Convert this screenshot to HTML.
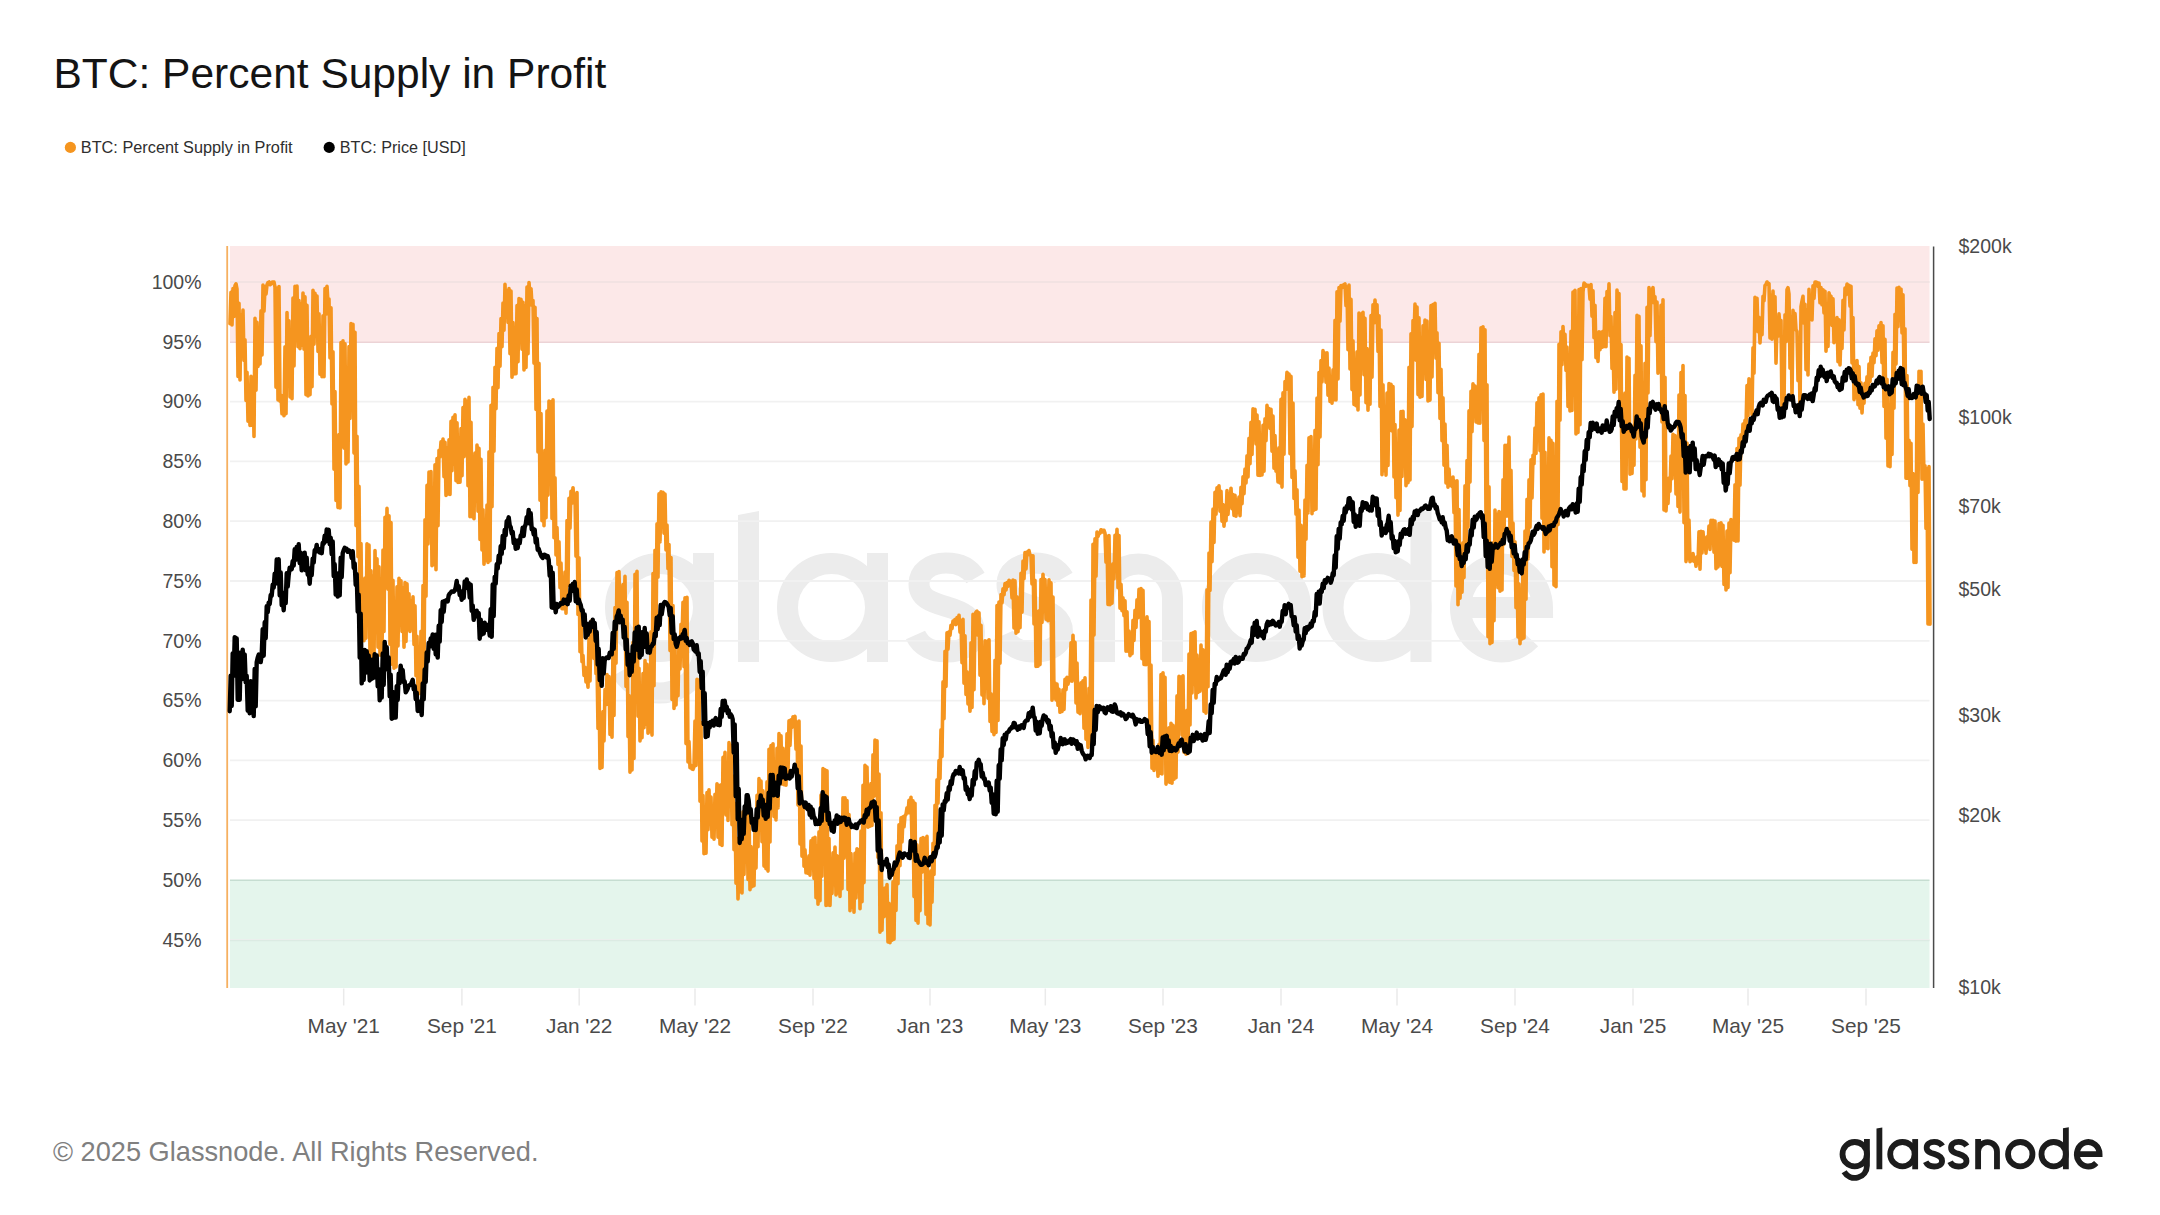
<!DOCTYPE html>
<html><head><meta charset="utf-8"><style>
html,body{margin:0;padding:0;background:#fff;}
body{width:2160px;height:1215px;overflow:hidden;position:relative;font-family:"Liberation Sans",sans-serif;}
svg{position:absolute;left:0;top:0;}
.wm circle,.wm path{fill:none;stroke:#ececec;stroke-width:21;}
.wm path.f{fill:#ececec;stroke:none;}
.lg circle,.lg path{fill:none;stroke:#1c1c1c;stroke-width:21;}
.lg path.f{fill:#1c1c1c;stroke:none;}
</style></head><body>
<svg width="2160" height="1215" viewBox="0 0 2160 1215">
<rect width="2160" height="1215" fill="#fff"/>
<text x="53.5" y="87.5" font-size="42.5" fill="#141414">BTC: Percent Supply in Profit</text>
<circle cx="70.4" cy="147.4" r="5.6" fill="#f5951f"/>
<text x="80.8" y="152.9" font-size="16.3" fill="#2e2e2e">BTC: Percent Supply in Profit</text>
<circle cx="329.2" cy="147.4" r="5.6" fill="#000"/>
<text x="339.8" y="152.9" font-size="16.2" fill="#2e2e2e">BTC: Price [USD]</text>
<g class="wm" transform="translate(605 662)"><circle cx="54.5" cy="-54.5" r="44"/><path d="M98.5 -109 V-13 A44 44 0 0 1 16.4 9"/><path d="M133 -147 L154 -151 L154 0 L133 0 Z" class="f"/><circle cx="226.5" cy="-54.5" r="44"/><path d="M272.5 -109 V0"/><path transform="translate(301 0)" d="M69.5 -84 C62 -97 50 -99 40 -99 C24 -99 13 -90 13 -78 C13 -64 25 -60 40 -55.5 C57 -50.5 68.5 -45 68.5 -30 C68.5 -17 56 -10 40 -10 C27 -10 15 -15 9.5 -27"/><path transform="translate(389 0)" d="M69.5 -84 C62 -97 50 -99 40 -99 C24 -99 13 -90 13 -78 C13 -64 25 -60 40 -55.5 C57 -50.5 68.5 -45 68.5 -30 C68.5 -17 56 -10 40 -10 C27 -10 15 -15 9.5 -27"/><path d="M499.5 -109 V0 M499.5 -64 A34 34 0 0 1 567.5 -64 V0"/><circle cx="651.5" cy="-54.5" r="44"/><circle cx="772" cy="-54.5" r="44"/><path d="M805.5 -148 L826.5 -152 L826.5 0 L805.5 0 Z" class="f"/><path d="M855.5 -54.5 H937.5 A41 44 0 1 0 925.5 -23"/></g>
<rect x="230.0" y="246.0" width="1699.5" height="96.19999999999999" fill="#fce8e8"/>
<rect x="230.0" y="880.3" width="1699.5" height="107.70000000000005" fill="#e4f5ec"/>
<g stroke="#f1f1f1" stroke-width="1.8"><line x1="230.0" x2="1929.5" y1="282" y2="282"/><line x1="230.0" x2="1929.5" y1="401.6" y2="401.6"/><line x1="230.0" x2="1929.5" y1="461.4" y2="461.4"/><line x1="230.0" x2="1929.5" y1="521.2" y2="521.2"/><line x1="230.0" x2="1929.5" y1="581" y2="581"/><line x1="230.0" x2="1929.5" y1="640.8" y2="640.8"/><line x1="230.0" x2="1929.5" y1="700.6" y2="700.6"/><line x1="230.0" x2="1929.5" y1="760.4" y2="760.4"/><line x1="230.0" x2="1929.5" y1="820.2" y2="820.2"/><line x1="230.0" x2="1929.5" y1="939.8" y2="939.8"/></g>
<line x1="230.0" x2="1929.5" y1="282" y2="282" stroke="#f2dcdc" stroke-width="1.6"/>
<line x1="230.0" x2="1929.5" y1="342.2" y2="342.2" stroke="#ecd3d6" stroke-width="1.6"/>
<line x1="230.0" x2="1929.5" y1="880.3" y2="880.3" stroke="#c6ddd1" stroke-width="1.6"/>
<line x1="230.0" x2="1929.5" y1="940.5" y2="940.5" stroke="#dcebe3" stroke-width="1.6"/>
<line x1="227.2" x2="227.2" y1="246" y2="988" stroke="#f6b060" stroke-width="1.8"/>
<line x1="1933.6" x2="1933.6" y1="246.5" y2="988" stroke="#4a4a4a" stroke-width="1.5"/>
<g stroke="#eaeaea" stroke-width="1.5"><line x1="343.7" x2="343.7" y1="988.5" y2="1005.5"/><line x1="461.9" x2="461.9" y1="988.5" y2="1005.5"/><line x1="579.2" x2="579.2" y1="988.5" y2="1005.5"/><line x1="695.0" x2="695.0" y1="988.5" y2="1005.5"/><line x1="813.0" x2="813.0" y1="988.5" y2="1005.5"/><line x1="930.0" x2="930.0" y1="988.5" y2="1005.5"/><line x1="1045.3" x2="1045.3" y1="988.5" y2="1005.5"/><line x1="1163.0" x2="1163.0" y1="988.5" y2="1005.5"/><line x1="1281.0" x2="1281.0" y1="988.5" y2="1005.5"/><line x1="1397.0" x2="1397.0" y1="988.5" y2="1005.5"/><line x1="1515.0" x2="1515.0" y1="988.5" y2="1005.5"/><line x1="1633.0" x2="1633.0" y1="988.5" y2="1005.5"/><line x1="1748.0" x2="1748.0" y1="988.5" y2="1005.5"/><line x1="1866.0" x2="1866.0" y1="988.5" y2="1005.5"/></g>
<g font-size="19.5" fill="#4a4a4a"><text x="201.5" y="288.8" text-anchor="end">100%</text><text x="201.5" y="348.6" text-anchor="end">95%</text><text x="201.5" y="408.4" text-anchor="end">90%</text><text x="201.5" y="468.2" text-anchor="end">85%</text><text x="201.5" y="528" text-anchor="end">80%</text><text x="201.5" y="587.8" text-anchor="end">75%</text><text x="201.5" y="647.6" text-anchor="end">70%</text><text x="201.5" y="707.4" text-anchor="end">65%</text><text x="201.5" y="767.2" text-anchor="end">60%</text><text x="201.5" y="827" text-anchor="end">55%</text><text x="201.5" y="886.8" text-anchor="end">50%</text><text x="201.5" y="946.6" text-anchor="end">45%</text><text x="1958.5" y="252.8">$200k</text><text x="1958.5" y="424.3">$100k</text><text x="1958.5" y="512.5">$70k</text><text x="1958.5" y="595.7">$50k</text><text x="1958.5" y="722.1">$30k</text><text x="1958.5" y="822.4">$20k</text><text x="1958.5" y="993.9">$10k</text></g>
<g font-size="20.8" fill="#4a4a4a"><text x="343.7" y="1032.8" text-anchor="middle">May '21</text><text x="461.9" y="1032.8" text-anchor="middle">Sep '21</text><text x="579.2" y="1032.8" text-anchor="middle">Jan '22</text><text x="695.0" y="1032.8" text-anchor="middle">May '22</text><text x="813.0" y="1032.8" text-anchor="middle">Sep '22</text><text x="930.0" y="1032.8" text-anchor="middle">Jan '23</text><text x="1045.3" y="1032.8" text-anchor="middle">May '23</text><text x="1163.0" y="1032.8" text-anchor="middle">Sep '23</text><text x="1281.0" y="1032.8" text-anchor="middle">Jan '24</text><text x="1397.0" y="1032.8" text-anchor="middle">May '24</text><text x="1515.0" y="1032.8" text-anchor="middle">Sep '24</text><text x="1633.0" y="1032.8" text-anchor="middle">Jan '25</text><text x="1748.0" y="1032.8" text-anchor="middle">May '25</text><text x="1866.0" y="1032.8" text-anchor="middle">Sep '25</text></g>
<path d="M230 323.6L231 292.4L232 325L233 288.6L234 316.5L235 285.7L236 283.8L237 289L238 376.4L239 303.2L240 379.9L241 314.7L242 345.3L243 310.1L244 360.4L245 339.9L246 400.5L247 372.2L248 421.1L249 401.5L250 425.4L251 376.3L252 425.1L253 378.4L254 436.4L255 318.4L256 390.1L257 322.4L258 366.5L259 342.3L260 364L261 310.9L262 354.9L263 285L264 311.3L265 286.9L266 294.1L267 284.7L268 282.5L269 282L270 284.7L271 284L272 282.3L273 282L274 282L275 287.2L276 387.2L277 288.2L278 399.9L279 286.6L280 401.3L281 395.2L282 413.8L283 407.1L284 415.8L285 346.9L286 413.7L287 312.5L288 382.6L289 320.8L290 397L291 347.1L292 398.8L293 298L294 365.9L295 286.3L296 318.7L297 286L298 346.8L299 300.6L300 348.6L301 303.7L302 345.2L303 293.1L304 349.1L305 296.9L306 394.7L307 305.4L308 395.9L309 351.2L310 394.8L311 336.2L312 386.8L313 290.2L314 344.2L315 293.3L316 325.5L317 296.1L318 351.4L319 313.8L320 374.3L321 350.2L322 376.7L323 315.7L324 376.8L325 288.5L326 314.1L327 286.3L328 303.3L329 299.1L330 358L331 307.7L332 403.9L333 351.7L334 469.2L335 391.6L336 500.4L337 467.9L338 507.5L339 434.6L340 508L341 342.5L342 446.4L343 340.9L344 448.1L345 343.7L346 464L347 384.3L348 461.9L349 346.5L350 418.5L351 323.6L352 387L353 324.4L354 453.1L355 332.2L356 525.6L357 436.2L358 556.8L359 486.4L360 610.8L361 543.6L362 635.3L363 588.8L364 640.8L365 578.1L366 638.3L367 543.8L368 594.1L369 545L370 657.5L371 570.8L372 660.7L373 576.3L374 659.1L375 550.6L376 605.3L377 558.8L378 647.2L379 566.8L380 655.1L381 587.7L382 655L383 550.1L384 631.5L385 517.3L386 584.9L387 508.4L388 589.3L389 515.7L390 644.2L391 522.6L392 664.2L393 580.4L394 668.3L395 617.5L396 667L397 586.8L398 646L399 578.2L400 607.3L401 580.7L402 631.4L403 587.7L404 647.1L405 582.6L406 641.4L407 583.8L408 629.6L409 593.9L410 631.4L411 600.7L412 623.1L413 596.7L414 644.4L415 605.7L416 675.8L417 636.4L418 694L419 669.1L420 693.4L421 631.2L422 686.9L423 585.5L424 673.4L425 519.7L426 596.3L427 485.4L428 544L429 472.1L430 506.5L431 471.6L432 565.7L433 501.1L434 564.4L435 464.7L436 569.8L437 458.5L438 525.7L439 450.3L440 457L441 441.9L442 451.4L443 439.1L444 476.6L445 442.2L446 495.5L447 448L448 494L449 439.9L450 494.5L451 421.4L452 470.6L453 417.2L454 464.1L455 414.7L456 480.6L457 422.7L458 482.4L459 445.3L460 482.2L461 428.6L462 475.7L463 407.6L464 456.6L465 399.4L466 429.5L467 401.5L468 485.7L469 397.4L470 516.8L471 422.2L472 516.7L473 472.4L474 518.7L475 453.1L476 498.2L477 445L478 511.3L479 448.4L480 539.4L481 459.2L482 549.9L483 509.7L484 564.1L485 546L486 560.2L487 505.1L488 562.4L489 451.8L490 560.7L491 405.3L492 506.7L493 387.2L494 451.3L495 367.2L496 408.7L497 348.4L498 387.7L499 333.6L500 366.2L501 318.5L502 346.7L503 303.1L504 330.2L505 284.3L506 317L507 290.7L508 322.4L509 288.5L510 353.8L511 291L512 377.2L513 322.6L514 374L515 338.1L516 373.8L517 305.5L518 361.8L519 298.6L520 337.6L521 299.2L522 349.1L523 302.3L524 370L525 306L526 367.5L527 287.1L528 353.8L529 282.5L530 296L531 288.7L532 305.3L533 300.6L534 363.1L535 307.2L536 409.4L537 318.5L538 451.9L539 363.4L540 500.2L541 413.5L542 520.7L543 453.9L544 525.8L545 450.3L546 517.7L547 411.1L548 495.1L549 401L550 481.8L551 401.7L552 518.5L553 399.7L554 537.7L555 477.7L556 554.9L557 527.6L558 564.5L559 541.8L560 587.7L561 563.1L562 608.8L563 577.3L564 608.6L565 572.1L566 613.2L567 520.5L568 585.5L569 498.3L570 528.3L571 491.4L572 503.1L573 487.7L574 502L575 495L576 556.1L577 492.5L578 614.5L579 557.7L580 651.8L581 619.2L582 661.7L583 655.6L584 675.4L585 667.4L586 681.9L587 675.3L588 687.2L589 638.8L590 680.9L591 621.1L592 644.6L593 627L594 658.5L595 641.5L596 673.8L597 661.7L598 728.5L599 681.3L600 768.4L601 732.2L602 767.5L603 711.5L604 741L605 689.6L606 704.6L607 674.6L608 697.5L609 676.5L610 734.4L611 702.6L612 737.3L613 646.6L614 715.5L615 607.6L616 663.3L617 572.6L618 608.8L619 571.5L620 616.4L621 590.9L622 609.5L623 584.5L624 615.3L625 576.4L626 686.5L627 602.4L628 736.6L629 695.5L630 772.3L631 734.4L632 769.9L633 642.2L634 758.4L635 574.3L636 699.1L637 571.2L638 716.3L639 668.3L640 740.9L641 716.1L642 737.8L643 673.6L644 727.6L645 660.5L646 724.1L647 664.4L648 733.3L649 700.1L650 731.8L651 631.8L652 735.1L653 573.5L654 685.8L655 550.2L656 636.5L657 523.9L658 577.2L659 493.9L660 541.9L661 491.9L662 513.1L663 492.3L664 533.1L665 494.1L666 549.9L667 525.1L668 568.6L669 544.5L670 650.6L671 557.5L672 699.4L673 605.6L674 708.4L675 647.7L676 704.9L677 657.7L678 695.8L679 642L680 668.9L681 624.2L682 640.4L683 602.3L684 666.8L685 597.9L686 743.6L687 597.4L688 762L689 741.6L690 767.6L691 765.5L692 769.1L693 769.4L694 766.7L695 721.1L696 765.5L697 679.4L698 742.4L699 680L700 801.3L701 722.6L702 841L703 795.6L704 853.7L705 817.5L706 853.3L707 792.5L708 829.6L709 789.9L710 824.1L711 797L712 837.1L713 816.2L714 839.1L715 794.3L716 820.4L717 783.8L718 837.3L719 785.6L720 844.3L721 784.7L722 845.5L723 757.4L724 800.5L725 752.3L726 815L727 766.8L728 820.5L729 742.5L730 788.5L731 745.3L732 824.8L733 776.1L734 849.8L735 803.2L736 883.3L737 838.2L738 899L739 860.8L740 891.8L741 835.5L742 892.9L743 811.8L744 874.5L745 807.1L746 840.8L747 806.2L748 879.5L749 809.8L750 889.8L751 846.6L752 886.6L753 859.8L754 885.6L755 826.4L756 868.1L757 795.4L758 846.6L759 778.5L760 821.8L761 781.1L762 841.8L763 790.9L764 866.1L765 823.9L766 868.7L767 781.9L768 871.1L769 749.2L770 841.9L771 745.6L772 801.5L773 743.8L774 816.6L775 773L776 819.9L777 748.3L778 807.9L779 733.5L780 775.3L781 735.8L782 784L783 748.2L784 784.6L785 754.6L786 785.1L787 733.8L788 772.7L789 720.9L790 745.4L791 719.7L792 727.4L793 716.7L794 718.5L795 716.4L796 749.1L797 722.2L798 805.1L799 721L800 843.9L801 746.1L802 856.3L803 803.7L804 866.3L805 849.9L806 872.8L807 860.5L808 873.3L809 855.9L810 875.2L811 840.8L812 863.6L813 838.2L814 878.5L815 837.4L816 897.8L817 846.2L818 904.2L819 831.9L820 900.7L821 795.1L822 876.3L823 768.6L824 843.6L825 769.7L826 905.5L827 770.7L828 904.9L829 838.5L830 905.5L831 866L832 893.4L833 852.9L834 877.1L835 847.1L836 894.9L837 855.7L838 893L839 856.6L840 896.4L841 818.4L842 888.8L843 797.8L844 858.1L845 797.8L846 847.7L847 800.6L848 889.5L849 814.6L850 910.8L851 853.5L852 907.1L853 875.1L854 912.3L855 853.2L856 897.9L857 848.8L858 880.3L859 849.7L860 908.8L861 831L862 901.8L863 785.4L864 882.6L865 765.3L866 810.9L867 767.1L868 827.2L869 785.7L870 826.2L871 783.6L872 825.5L873 754.9L874 796.3L875 740L876 781.6L877 740.8L878 857.6L879 774L880 932.2L881 812.8L882 930.1L883 888.2L884 916.7L885 888L886 910.8L887 884.5L888 941.9L889 903.3L890 942.8L891 913L892 940.1L893 881.9L894 939.2L895 866.6L896 910.4L897 845.7L898 883.8L899 824.9L900 865.7L901 817.8L902 841.9L903 816.8L904 826.8L905 815.6L906 814.3L907 807.8L908 812.8L909 800.3L910 812.8L911 797.2L912 841.8L913 800.9L914 896.6L915 803.2L916 920.5L917 844.9L918 923.1L919 862.5L920 910.7L921 838.5L922 872.1L923 837.5L924 851.1L925 838.5L926 914.3L927 836.4L928 923.8L929 903.3L930 924.9L931 870.9L932 902.2L933 843.3L934 874.5L935 805.4L936 846.5L937 779.7L938 803.2L939 760.6L940 778.5L941 729.8L942 756.6L943 681.9L944 718.8L945 651.3L946 686.5L947 632.8L948 649.1L949 631.9L950 635.3L951 625.2L952 628.5L953 621.1L954 623.9L955 619.5L956 624.6L957 617.5L958 620.7L959 615.2L960 632.1L961 621L962 662.7L963 619.2L964 683.2L965 635.7L966 694.4L967 671.8L968 704L969 693.3L970 711.1L971 642.7L972 707.5L973 614.4L974 689.8L975 615.9L976 612L977 611.1L978 635.1L979 612.8L980 675.2L981 625.4L982 695L983 651.2L984 703.7L985 640.9L986 683.5L987 641.4L988 698.3L989 639.7L990 721.4L991 693.9L992 731.5L993 723.7L994 734.6L995 660.3L996 732.4L997 605.6L998 720.4L999 602L1000 663.1L1001 594.6L1002 602.9L1003 588.9L1004 594.8L1005 583.6L1006 589.9L1007 582.6L1008 586.3L1009 580.2L1010 584.3L1011 581.4L1012 598L1013 580.1L1014 628L1015 580.8L1016 633.2L1017 596.7L1018 631.6L1019 599.9L1020 627.8L1021 573.2L1022 612.1L1023 561.1L1024 578.6L1025 552.5L1026 569L1027 552L1028 554.1L1029 550.6L1030 555.2L1031 555.7L1032 583.9L1033 555.7L1034 624L1035 580.4L1036 666.4L1037 611.6L1038 666.3L1039 610.9L1040 664.6L1041 579.5L1042 622.5L1043 574.4L1044 603.3L1045 579.6L1046 619.1L1047 604.2L1048 620.7L1049 579.9L1050 617.9L1051 582.9L1052 700.2L1053 597.1L1054 698L1055 683L1056 700L1057 684L1058 705.3L1059 689.3L1060 712.3L1061 703.9L1062 711.5L1063 689.7L1064 709.5L1065 679.2L1066 689.7L1067 677.3L1068 684.3L1069 678.8L1070 680.6L1071 642.7L1072 681.1L1073 635.4L1074 672.4L1075 642.2L1076 702.9L1077 663L1078 712.3L1079 693.3L1080 713.6L1081 682.9L1082 703.9L1083 680.7L1084 728.2L1085 677.9L1086 739.3L1087 715.2L1088 747.4L1089 688.2L1090 743.6L1091 600.1L1092 745.6L1093 544.2L1094 635.1L1095 538.7L1096 576.1L1097 532.1L1098 536.6L1099 533.2L1100 533.3L1101 529.8L1102 532L1103 530.3L1104 530.2L1105 533.4L1106 562.1L1107 536.4L1108 604.4L1109 535.6L1110 604.6L1111 578.9L1112 603.1L1113 563.9L1114 578.9L1115 535.2L1116 558.7L1117 529.2L1118 587.7L1119 535.6L1120 608.3L1121 584.2L1122 610.8L1123 597.9L1124 615.7L1125 600.7L1126 651.2L1127 611.9L1128 651.1L1129 631.1L1130 655.6L1131 636.8L1132 653.7L1133 620.4L1134 640.4L1135 610.3L1136 627.5L1137 599.9L1138 617.7L1139 589.2L1140 603.9L1141 588.6L1142 658.8L1143 590.4L1144 664.5L1145 629.5L1146 664.8L1147 616.9L1148 655.7L1149 621.6L1150 743.2L1151 665.1L1152 768.2L1153 740.4L1154 770.4L1155 754.7L1156 762.9L1157 753.6L1158 776.3L1159 744.2L1160 773.1L1161 674.5L1162 773.9L1163 672.8L1164 740.5L1165 677.3L1166 784.1L1167 733.9L1168 781.6L1169 727.7L1170 782.5L1171 723.3L1172 783.1L1173 725.4L1174 779.3L1175 740.8L1176 777.8L1177 695.9L1178 752.1L1179 676.4L1180 714.6L1181 677L1182 735.2L1183 675.7L1184 752.3L1185 729.9L1186 754.2L1187 710.3L1188 753.5L1189 654L1190 724.9L1191 633.5L1192 692.9L1193 632.7L1194 684.2L1195 631.9L1196 698L1197 655.1L1198 692.4L1199 662.3L1200 691.1L1201 645L1202 685.1L1203 649.7L1204 711.4L1205 652.8L1206 713.1L1207 589.8L1208 686.8L1209 553L1210 590.5L1211 522L1212 561.7L1213 509L1214 542.5L1215 492.4L1216 514.3L1217 487.7L1218 503.1L1219 485.7L1220 511.3L1221 491.4L1222 521.3L1223 504.5L1224 526.2L1225 509.8L1226 520.6L1227 490.6L1228 514.4L1229 494.6L1230 505.9L1231 488.2L1232 508.7L1233 494.6L1234 515.4L1235 495.4L1236 516.1L1237 500.2L1238 512.5L1239 497L1240 515.6L1241 487.2L1242 503.7L1243 476.7L1244 493.8L1245 469L1246 483L1247 455.8L1248 476.9L1249 438.2L1250 463.6L1251 422.3L1252 454.4L1253 408.7L1254 437.4L1255 409.4L1256 444L1257 415.1L1258 475.1L1259 421.8L1260 475.4L1261 443.6L1262 475L1263 425.3L1264 471.1L1265 418.7L1266 440.8L1267 405.3L1268 417.9L1269 408.5L1270 428.4L1271 409.2L1272 451.2L1273 416.1L1274 468.2L1275 435.6L1276 471.2L1277 462.9L1278 481.9L1279 447.8L1280 482.9L1281 399.2L1282 487.1L1283 392.9L1284 454.2L1285 381.6L1286 389.5L1287 372.2L1288 386.5L1289 374L1290 453.7L1291 376.4L1292 477.4L1293 403.1L1294 498.4L1295 470.7L1296 514.1L1297 489.8L1298 557.3L1299 510L1300 571.1L1301 525.2L1302 576.8L1303 533.8L1304 575.9L1305 500L1306 539.3L1307 465.4L1308 512.9L1309 437.8L1310 478.3L1311 436.5L1312 513.7L1313 451.2L1314 510.1L1315 430.4L1316 509.3L1317 398.1L1318 464.7L1319 372.5L1320 436.9L1321 360.6L1322 382L1323 350.5L1324 370.9L1325 353.1L1326 382.3L1327 352.9L1328 395.1L1329 368.1L1330 401.4L1331 390L1332 403.1L1333 369.9L1334 399.7L1335 320.4L1336 399.9L1337 291.7L1338 379L1339 287.5L1340 321.1L1341 285.5L1342 287.8L1343 285.1L1344 284.7L1345 283.9L1346 305.6L1347 287.2L1348 349.7L1349 285.1L1350 369L1351 299.4L1352 389.6L1353 340.9L1354 404.4L1355 381.6L1356 405.8L1357 351.9L1358 409.9L1359 313.1L1360 394.9L1361 314.1L1362 349.9L1363 312.3L1364 374.8L1365 318.4L1366 402.7L1367 348.5L1368 410.1L1369 358.4L1370 404.2L1371 315.5L1372 377.3L1373 304.8L1374 323L1375 300.1L1376 322.4L1377 304.9L1378 351.4L1379 315.7L1380 406.5L1381 330.1L1382 474.8L1383 384.8L1384 470.7L1385 422.1L1386 475.1L1387 393.1L1388 465.4L1389 383.5L1390 430.1L1391 384.2L1392 431L1393 386.6L1394 477L1395 424.5L1396 497.8L1397 457.7L1398 515.1L1399 430.1L1400 510.4L1401 411.6L1402 476.4L1403 411.3L1404 461.1L1405 419.8L1406 485.7L1407 420.7L1408 482.8L1409 367.2L1410 480L1411 333.8L1412 426.6L1413 320.5L1414 337.5L1415 304L1416 360.3L1417 307.1L1418 394.6L1419 317.9L1420 397.2L1421 348.3L1422 396.5L1423 325.7L1424 368.8L1425 320L1426 379.5L1427 321.1L1428 400.9L1429 331.9L1430 400.1L1431 305.5L1432 376.9L1433 304.5L1434 344.1L1435 303.4L1436 358.3L1437 332.9L1438 392.8L1439 343.3L1440 418.4L1441 369.2L1442 440.8L1443 397.9L1444 465.3L1445 424L1446 482.9L1447 445.4L1448 487.2L1449 469L1450 485.2L1451 480.5L1452 486.5L1453 477L1454 512.7L1455 481.4L1456 585.9L1457 480.8L1458 604.7L1459 509.5L1460 598.3L1461 568.8L1462 592.2L1463 542.8L1464 577.6L1465 485.8L1466 554L1467 460.6L1468 527.3L1469 410.9L1470 482.1L1471 391.2L1472 431.6L1473 383.8L1474 409.8L1475 386L1476 422L1477 396.8L1478 422.9L1479 354.3L1480 423.3L1481 327.8L1482 402L1483 326.8L1484 440.6L1485 329.8L1486 519.9L1487 384.7L1488 636.8L1489 486.8L1490 643.7L1491 546.3L1492 642.4L1493 542.7L1494 620.7L1495 510L1496 583.6L1497 514.6L1498 587.8L1499 511.5L1500 591.3L1501 512.6L1502 589.9L1503 479.7L1504 544.3L1505 445.2L1506 516.1L1507 445.2L1508 515.9L1509 437L1510 535.5L1511 470.4L1512 556.4L1513 523.1L1514 570.4L1515 541.8L1516 607.6L1517 557.8L1518 637L1519 583.8L1520 643.6L1521 603L1522 638.9L1523 564L1524 637.9L1525 531L1526 599.2L1527 499.2L1528 558.9L1529 479.9L1530 527.1L1531 459.8L1532 498L1533 455.3L1534 463.7L1535 428.1L1536 453.4L1537 402.7L1538 439.6L1539 397.7L1540 450.7L1541 394.9L1542 518.2L1543 394L1544 552L1545 452.3L1546 548L1547 489.1L1548 548.7L1549 437.9L1550 521.8L1551 440.4L1552 566.7L1553 443.4L1554 585.1L1555 481.9L1556 586.7L1557 401.2L1558 524.8L1559 344.2L1560 420.3L1561 331.7L1562 364.6L1563 326.5L1564 348L1565 334.3L1566 370.4L1567 347L1568 406.4L1569 363.6L1570 410.9L1571 331.3L1572 410.5L1573 292L1574 348L1575 290.2L1576 434L1577 327.7L1578 432.4L1579 289.6L1580 424.8L1581 288.5L1582 359.6L1583 291.7L1584 283.1L1585 284.1L1586 286.1L1587 285.2L1588 285.2L1589 286.1L1590 299.2L1591 284.6L1592 316.2L1593 290.9L1594 337.6L1595 305.3L1596 357.8L1597 335.6L1598 361.4L1599 331.9L1600 349.6L1601 332.2L1602 347.3L1603 331.2L1604 346.4L1605 298.4L1606 346.8L1607 291.6L1608 313.9L1609 283.7L1610 335.7L1611 316.6L1612 368.5L1613 342.2L1614 392.3L1615 312.6L1616 389.3L1617 290.1L1618 340.1L1619 293.6L1620 409.5L1621 344.6L1622 481.4L1623 419.8L1624 488.9L1625 393.1L1626 488.9L1627 357.1L1628 441.1L1629 358.3L1630 474.3L1631 425.8L1632 473.4L1633 433.7L1634 465.3L1635 375.4L1636 438.9L1637 315.4L1638 410.8L1639 316.4L1640 447.3L1641 345.9L1642 490.9L1643 433.2L1644 496L1645 363.3L1646 479.8L1647 307.4L1648 393L1649 287.5L1650 335.8L1651 291.1L1652 290.7L1653 287.6L1654 302.8L1655 296.7L1656 341.6L1657 302.1L1658 373.2L1659 330.2L1660 368.5L1661 305.3L1662 422L1663 299.7L1664 509.9L1665 377.3L1666 510.9L1667 491.5L1668 503.4L1669 478L1670 491.1L1671 456.1L1672 478.6L1673 434.2L1674 461.9L1675 435.5L1676 493.9L1677 436.9L1678 506.5L1679 395.1L1680 512.1L1681 372.6L1682 460.7L1683 365.5L1684 522.7L1685 395.6L1686 561.6L1687 443.1L1688 558.7L1689 520L1690 561.7L1691 556.2L1692 560.6L1693 553.5L1694 561.2L1695 558.1L1696 566.2L1697 556.8L1698 563.3L1699 531.9L1700 569.2L1701 531.3L1702 552.9L1703 531.7L1704 547.5L1705 538.3L1706 553.1L1707 536.8L1708 546.2L1709 526.1L1710 549.4L1711 520.3L1712 537.4L1713 520.3L1714 552.2L1715 521.1L1716 568.6L1717 538.2L1718 566.9L1719 523.6L1720 564.8L1721 522.8L1722 566.4L1723 525.4L1724 584.5L1725 547.9L1726 590L1727 531L1728 587.4L1729 523L1730 572.7L1731 519.6L1732 537.9L1733 528.3L1734 540.2L1735 484.7L1736 541.1L1737 448.6L1738 541L1739 438.4L1740 485.3L1741 434.9L1742 443.4L1743 424.1L1744 434.6L1745 420.3L1746 428.1L1747 385.5L1748 415.8L1749 378.8L1750 406.1L1751 388L1752 414.8L1753 347.9L1754 373.3L1755 297.3L1756 308.5L1757 298.2L1758 331.7L1759 317.3L1760 343L1761 320.1L1762 334.7L1763 296.3L1764 300.8L1765 285.5L1766 284.5L1767 282L1768 284.2L1769 283.6L1770 338L1771 295.6L1772 339.1L1773 291L1774 331.4L1775 296.7L1776 363.3L1777 323.6L1778 336.2L1779 313.8L1780 328.5L1781 320.6L1782 412L1783 372.8L1784 406.3L1785 314.8L1786 341.6L1787 289.5L1788 287.7L1789 294L1790 368.2L1791 316.9L1792 398.5L1793 310.4L1794 319.9L1795 313.6L1796 329.8L1797 331.4L1798 380.8L1799 337.9L1800 408.9L1801 306.5L1802 301.1L1803 296.3L1804 323.2L1805 304.4L1806 369.6L1807 309.7L1808 375L1809 289.4L1810 318.5L1811 300L1812 320L1813 285.9L1814 298.3L1815 282L1816 282L1817 282.6L1818 286.3L1819 283.1L1820 302.8L1821 287.5L1822 304.8L1823 289.7L1824 313L1825 291.3L1826 351.2L1827 317.2L1828 346.5L1829 292.9L1830 298.4L1831 296.2L1832 325.5L1833 298.8L1834 342.6L1835 323.7L1836 333.9L1837 317.6L1838 361.6L1839 319.9L1840 364.9L1841 334.3L1842 348.4L1843 300.2L1844 329.9L1845 288.1L1846 294.9L1847 284.1L1848 286.3L1849 285.3L1850 306.2L1851 286.3L1852 363L1853 317.6L1854 399.6L1855 363L1856 397.5L1857 360.6L1858 404.6L1859 366.6L1860 408.2L1861 382.7L1862 412.9L1863 393.2L1864 403.1L1865 383.3L1866 395.4L1867 376.8L1868 389.1L1869 364.1L1870 381.8L1871 357.3L1872 376.2L1873 353.1L1874 362.6L1875 338.8L1876 355.6L1877 330.7L1878 350.1L1879 325.8L1880 337.1L1881 322.5L1882 362.7L1883 325.8L1884 406.4L1885 339.4L1886 438.3L1887 379.2L1888 466L1889 423.6L1890 466.8L1891 395.8L1892 454.5L1893 352.4L1894 408.3L1895 314.2L1896 364.1L1897 288L1898 326.6L1899 287.3L1900 292.1L1901 289.1L1902 332.9L1903 294.7L1904 379.5L1905 328.7L1906 478.2L1907 375.6L1908 478.1L1909 440.4L1910 485.7L1911 443.2L1912 549.2L1913 473.5L1914 562.5L1915 476.5L1916 562.4L1917 386L1918 492.4L1919 371.4L1920 449.1L1921 371.2L1922 479.3L1923 424L1924 478.9L1925 465.7L1926 528.5L1927 468.8L1928 624L1929 466.5L1930 624.3" fill="none" stroke="#f5951f" stroke-width="3.6" stroke-linejoin="round" stroke-linecap="round"/>
<path d="M229.7 711.2L230.7 675.6L231.7 706L232.7 653.4L233.7 675.6L234.7 637.1L235.7 660.2L236.7 638.5L237.7 699.7L238.7 659.7L239.7 699.8L240.7 652.4L241.7 679.4L242.7 649.6L243.7 661.9L244.7 654.4L245.7 682.3L246.7 675.7L247.7 710.7L248.7 695.8L249.7 713.3L250.7 681.3L251.7 706.3L252.7 688.5L253.7 716.1L254.7 668.9L255.7 706.4L256.7 662.2L257.7 657.6L258.7 654.6L259.7 658.2L260.7 662.1L261.7 654.6L262.7 629.2L263.7 655.7L264.7 622.2L265.7 638.2L266.7 606.2L267.7 612.2L268.7 602.6L269.7 603.9L270.7 594.9L271.7 595.5L272.7 584.7L273.7 587.7L274.7 573.7L275.7 583.6L276.7 559.5L277.7 569.4L278.7 559.2L279.7 595.5L280.7 572.5L281.7 605.2L282.7 599.5L283.7 610.2L284.7 592.6L285.7 603.1L286.7 573.3L287.7 586.6L288.7 574.9L289.7 567.6L290.7 569.7L291.7 569.3L292.7 561.1L293.7 565.5L294.7 549.3L295.7 559.8L296.7 546.9L297.7 553.4L298.7 544.3L299.7 563.2L300.7 552.7L301.7 570.4L302.7 562.4L303.7 563.6L304.7 552.8L305.7 570.3L306.7 557.8L307.7 574.7L308.7 570.6L309.7 583.7L310.7 568.3L311.7 575L312.7 558.6L313.7 562.7L314.7 550.1L315.7 551.3L316.7 544.9L317.7 551.4L318.7 549L319.7 552.4L320.7 549.1L321.7 553.2L322.7 542.9L323.7 543.7L324.7 535.7L325.7 541.5L326.7 529.4L327.7 531.7L328.7 529.9L329.7 544.2L330.7 537.6L331.7 554.2L332.7 541.5L333.7 576.3L334.7 564.3L335.7 594.6L336.7 579L337.7 596.6L338.7 573.2L339.7 595.4L340.7 557.6L341.7 577.1L342.7 553.1L343.7 550.1L344.7 547.8L345.7 549.7L346.7 548.9L347.7 551.8L348.7 550.2L349.7 551L350.7 552L351.7 557.9L352.7 551.2L353.7 567.8L354.7 563.4L355.7 584.9L356.7 574.1L357.7 611.7L358.7 594.8L359.7 657.7L360.7 613.7L361.7 683.4L362.7 653.3L363.7 680L364.7 650L365.7 672.7L366.7 651.2L367.7 664.9L368.7 655.5L369.7 680.5L370.7 661.6L371.7 678.8L372.7 659.5L373.7 677.7L374.7 654.2L375.7 667.4L376.7 655.4L377.7 686.5L378.7 669.1L379.7 700.4L380.7 684.5L381.7 697.6L382.7 653.5L383.7 685L384.7 641.9L385.7 658.1L386.7 647.2L387.7 669.6L388.7 657.5L389.7 696.4L390.7 674.7L391.7 718.8L392.7 691.9L393.7 717.8L394.7 705.2L395.7 717.6L396.7 686.1L397.7 700L398.7 673.8L399.7 683.1L400.7 665.7L401.7 672.9L402.7 670.1L403.7 682L404.7 681.6L405.7 692.4L406.7 690.7L407.7 688.7L408.7 685.5L409.7 685.1L410.7 684.7L411.7 682.5L412.7 679.7L413.7 689.3L414.7 686.1L415.7 699.2L416.7 692.6L417.7 711L418.7 701.5L419.7 708.3L420.7 705.6L421.7 715L422.7 683.4L423.7 699.4L424.7 669.4L425.7 682L426.7 652.5L427.7 661.5L428.7 642.9L429.7 646.7L430.7 638.4L431.7 640.1L432.7 634.5L433.7 648.8L434.7 634.9L435.7 654.5L436.7 634.4L437.7 657.6L438.7 625.7L439.7 641.8L440.7 610.1L441.7 622L442.7 601.7L443.7 611.9L444.7 600.8L445.7 600.5L446.7 600.1L447.7 601.3L448.7 595.4L449.7 593.6L450.7 592.8L451.7 591.4L452.7 591.4L453.7 591.7L454.7 590.6L455.7 587.3L456.7 581L457.7 589.4L458.7 586L459.7 594.9L460.7 593.1L461.7 599.7L462.7 591.3L463.7 597.9L464.7 581.5L465.7 588.2L466.7 579.4L467.7 586.7L468.7 583L469.7 597.6L470.7 584.7L471.7 610.8L472.7 605.5L473.7 619.9L474.7 615.6L475.7 615.5L476.7 610.7L477.7 616.5L478.7 613.1L479.7 638.7L480.7 619.7L481.7 634.5L482.7 629.4L483.7 633.6L484.7 622.7L485.7 630.1L486.7 624.6L487.7 630.1L488.7 627.3L489.7 635.5L490.7 609.1L491.7 636.8L492.7 584.5L493.7 616.3L494.7 576.9L495.7 583.6L496.7 564.3L497.7 568.6L498.7 555.7L499.7 562.5L500.7 546.1L501.7 553.9L502.7 535.9L503.7 548.2L504.7 529.9L505.7 535.4L506.7 521.1L507.7 521.3L508.7 517.3L509.7 525.3L510.7 527.2L511.7 533.4L512.7 531.8L513.7 543.1L514.7 539.6L515.7 548.7L516.7 543.8L517.7 548.1L518.7 540.1L519.7 543.2L520.7 535.5L521.7 535.4L522.7 527.6L523.7 536L524.7 526.9L525.7 524.4L526.7 517.1L527.7 520.8L528.7 510L529.7 523.6L530.7 513.3L531.7 529.4L532.7 528.4L533.7 534.3L534.7 529.6L535.7 542.5L536.7 538.6L537.7 549.7L538.7 548.9L539.7 552.1L540.7 554.7L541.7 556.7L542.7 558L543.7 554.9L544.7 554.7L545.7 555.5L546.7 557.4L547.7 556L548.7 559.7L549.7 575.8L550.7 567L551.7 607.5L552.7 572.8L553.7 608.1L554.7 603.5L555.7 612.2L556.7 604L557.7 607.1L558.7 606.1L559.7 605.2L560.7 603.1L561.7 603.4L562.7 603.7L563.7 599.6L564.7 602.4L565.7 603L566.7 599.4L567.7 604.2L568.7 595.4L569.7 600.9L570.7 585.7L571.7 591.3L572.7 584L573.7 589L574.7 582L575.7 601.4L576.7 589.5L577.7 603.1L578.7 599.3L579.7 602.7L580.7 605L581.7 610.5L582.7 610.3L583.7 625.1L584.7 614.5L585.7 637.5L586.7 623.8L587.7 635L588.7 628.8L589.7 631.6L590.7 622.1L591.7 627.1L592.7 619.7L593.7 625.2L594.7 622.9L595.7 641L596.7 632L597.7 664.6L598.7 649L599.7 680.2L600.7 670.1L601.7 685.8L602.7 658.2L603.7 673.6L604.7 660.4L605.7 658.5L606.7 657.4L607.7 657.2L608.7 657.9L609.7 652.8L610.7 654L611.7 654.3L612.7 632.9L613.7 648.8L614.7 621.8L615.7 629.4L616.7 616.5L617.7 614.6L618.7 610.5L619.7 622.4L620.7 615.8L621.7 622.2L622.7 619.5L623.7 637.6L624.7 627L625.7 649.4L626.7 639.6L627.7 664.9L628.7 654.6L629.7 675.2L630.7 662.6L631.7 671.9L632.7 646.2L633.7 661.6L634.7 632.5L635.7 647.5L636.7 627.6L637.7 650L638.7 626.6L639.7 657.6L640.7 649.6L641.7 654.8L642.7 632L643.7 642.2L644.7 627.9L645.7 647.1L646.7 633.5L647.7 652.4L648.7 647.2L649.7 652.7L650.7 646.8L651.7 646.5L652.7 643.7L653.7 643.9L654.7 633.7L655.7 636.2L656.7 617.6L657.7 629L658.7 616.3L659.7 625.1L660.7 605L661.7 614.4L662.7 607.7L663.7 603.5L664.7 602L665.7 602.4L666.7 603.4L667.7 604.9L668.7 606.9L669.7 615.3L670.7 607.9L671.7 633L672.7 616.2L673.7 639.1L674.7 634.2L675.7 643.7L676.7 646.7L677.7 642.9L678.7 638.2L679.7 638.9L680.7 636.7L681.7 638.4L682.7 634.3L683.7 633.8L684.7 629.9L685.7 640.7L686.7 637.8L687.7 643.3L688.7 643L689.7 644.9L690.7 642L691.7 641.3L692.7 643.2L693.7 649.3L694.7 650.5L695.7 651.7L696.7 645.2L697.7 654.4L698.7 653.3L699.7 672L700.7 661.2L701.7 688.1L702.7 671.8L703.7 724.1L704.7 693.3L705.7 737.1L706.7 725.8L707.7 736.1L708.7 723L709.7 727.4L710.7 721.9L711.7 723.4L712.7 720.8L713.7 725.5L714.7 720.7L715.7 718L716.7 723.2L717.7 724.7L718.7 719.4L719.7 725.2L720.7 708.9L721.7 716.8L722.7 701L723.7 710.4L724.7 700.8L725.7 708.6L726.7 706.6L727.7 713.1L728.7 710.4L729.7 716.7L730.7 714.3L731.7 715.9L732.7 719.4L733.7 752.8L734.7 724.4L735.7 796.2L736.7 743.8L737.7 819.2L738.7 789L739.7 843L740.7 823.7L741.7 839.2L742.7 819.6L743.7 833.8L744.7 806.4L745.7 813.7L746.7 795.2L747.7 795.3L748.7 800.7L749.7 812.8L750.7 809.1L751.7 822.9L752.7 818.9L753.7 829.8L754.7 823.3L755.7 830L756.7 809.2L757.7 817.6L758.7 801.6L759.7 806.7L760.7 795.4L761.7 803.2L762.7 799.6L763.7 815.5L764.7 804.7L765.7 818.8L766.7 807.4L767.7 816.9L768.7 792.7L769.7 808.6L770.7 774.9L771.7 787L772.7 775L773.7 795.3L774.7 782.5L775.7 794.5L776.7 793.7L777.7 795.7L778.7 775.7L779.7 783.6L780.7 767.5L781.7 777.5L782.7 767.8L783.7 774.1L784.7 768.3L785.7 778.8L786.7 778L787.7 778L788.7 775.4L789.7 778.4L790.7 771L791.7 776.5L792.7 771.9L793.7 770.9L794.7 764.6L795.7 771.5L796.7 769.5L797.7 788.3L798.7 776.1L799.7 803.5L800.7 791.9L801.7 801.8L802.7 801.6L803.7 803.1L804.7 807L805.7 802.6L806.7 807.9L807.7 809.3L808.7 805L809.7 814.7L810.7 806.7L811.7 817.5L812.7 809.5L813.7 816.6L814.7 818L815.7 824.1L816.7 820.5L817.7 823.9L818.7 821.7L819.7 823.7L820.7 808.2L821.7 820.8L822.7 792.2L823.7 804.8L824.7 795.6L825.7 810.9L826.7 797.2L827.7 820.2L828.7 812.9L829.7 824L830.7 822.6L831.7 830.5L832.7 827.1L833.7 831.8L834.7 820.4L835.7 823.4L836.7 815.5L837.7 823.7L838.7 817L839.7 818.6L840.7 821.9L841.7 817.8L842.7 819.9L843.7 817.7L844.7 817.8L845.7 818.1L846.7 824.7L847.7 822.2L848.7 819.1L849.7 823.6L850.7 824.1L851.7 826.9L852.7 825.8L853.7 826.1L854.7 827.2L855.7 824.6L856.7 828.1L857.7 824.2L858.7 823.3L859.7 822.5L860.7 820.7L861.7 821.4L862.7 819.8L863.7 822.6L864.7 815.2L865.7 817.2L866.7 809.7L867.7 814.6L868.7 808.9L869.7 807.9L870.7 807.3L871.7 802.4L872.7 805.4L873.7 801.4L874.7 802.4L875.7 821L876.7 807.1L877.7 850.7L878.7 820.5L879.7 863.2L880.7 850.2L881.7 870L882.7 861.6L883.7 863.8L884.7 864.3L885.7 863.2L886.7 858.9L887.7 867L888.7 864.6L889.7 877.7L890.7 871.8L891.7 874.9L892.7 870.1L893.7 868.7L894.7 862.5L895.7 865.6L896.7 863.3L897.7 860.7L898.7 855.9L899.7 852.5L900.7 854.1L901.7 856.6L902.7 857.7L903.7 853.6L904.7 853.5L905.7 854.8L906.7 855.2L907.7 854.3L908.7 857.7L909.7 858L910.7 841L911.7 850.8L912.7 843.3L913.7 845.2L914.7 841.9L915.7 860.8L916.7 855L917.7 859.9L918.7 861.4L919.7 863.1L920.7 864.7L921.7 864.8L922.7 864.3L923.7 862.4L924.7 857.8L925.7 862.5L926.7 863L927.7 861.2L928.7 865.2L929.7 858.1L930.7 857L931.7 861.3L932.7 857L933.7 853L934.7 857L935.7 853.6L936.7 846.9L937.7 847.5L938.7 833.4L939.7 842.5L940.7 809.2L941.7 835.8L942.7 804.4L943.7 810.4L944.7 800.9L945.7 801.8L946.7 793.2L947.7 799.7L948.7 787.3L949.7 790L950.7 781.3L951.7 784.2L952.7 776.9L953.7 774.1L954.7 774.3L955.7 770.9L956.7 771.7L957.7 771.2L958.7 773.4L959.7 766.9L960.7 771.5L961.7 774.1L962.7 770.3L963.7 778.6L964.7 777.8L965.7 789.8L966.7 786.9L967.7 794.2L968.7 793.5L969.7 799.1L970.7 789.4L971.7 795.7L972.7 780L973.7 784.8L974.7 771.3L975.7 778.7L976.7 762.8L977.7 762.7L978.7 759.8L979.7 763.8L980.7 764.3L981.7 776.5L982.7 772.8L983.7 778.7L984.7 778.5L985.7 785L986.7 785L987.7 785L988.7 782.6L989.7 790.5L990.7 787.5L991.7 802.9L992.7 794.2L993.7 813.7L994.7 798.7L995.7 814.4L996.7 780.7L997.7 811.8L998.7 765.3L999.7 778.8L1000.7 749.4L1001.7 760.4L1002.7 738.3L1003.7 745.1L1004.7 734.6L1005.7 739.5L1006.7 732.9L1007.7 732.3L1008.7 731.5L1009.7 729.3L1010.7 728.8L1011.7 727.1L1012.7 727.4L1013.7 722.9L1014.7 723.3L1015.7 727.5L1016.7 727L1017.7 729.7L1018.7 726.5L1019.7 728.8L1020.7 725.8L1021.7 725.2L1022.7 725.8L1023.7 727.9L1024.7 722.4L1025.7 721L1026.7 720.2L1027.7 720.3L1028.7 713.3L1029.7 717.1L1030.7 712.1L1031.7 714.5L1032.7 707.6L1033.7 716.6L1034.7 717.6L1035.7 730.6L1036.7 721.6L1037.7 733.7L1038.7 727.2L1039.7 733.3L1040.7 721.6L1041.7 725.8L1042.7 718.8L1043.7 715.4L1044.7 716.5L1045.7 716.7L1046.7 719.9L1047.7 722.6L1048.7 720.4L1049.7 729.4L1050.7 725.8L1051.7 736.6L1052.7 733.1L1053.7 747.5L1054.7 742.3L1055.7 752.9L1056.7 748.3L1057.7 749.6L1058.7 744.9L1059.7 744.5L1060.7 738L1061.7 741.6L1062.7 744.2L1063.7 739.5L1064.7 739.3L1065.7 743.4L1066.7 741.5L1067.7 742.6L1068.7 740.7L1069.7 742.1L1070.7 739.1L1071.7 743.8L1072.7 739.4L1073.7 739.8L1074.7 742L1075.7 744.2L1076.7 741.2L1077.7 748.7L1078.7 744.2L1079.7 746.5L1080.7 745.3L1081.7 750.7L1082.7 753.3L1083.7 754.7L1084.7 755.7L1085.7 759.3L1086.7 756.2L1087.7 755.7L1088.7 756.8L1089.7 758L1090.7 755.1L1091.7 755.1L1092.7 735L1093.7 744.2L1094.7 709.7L1095.7 730L1096.7 705.9L1097.7 712.3L1098.7 708.7L1099.7 706.4L1100.7 708.9L1101.7 707.8L1102.7 709.4L1103.7 707.8L1104.7 712.5L1105.7 713.2L1106.7 709.1L1107.7 707.3L1108.7 708.7L1109.7 709.8L1110.7 706.2L1111.7 711.4L1112.7 711.8L1113.7 711.5L1114.7 704.4L1115.7 706.9L1116.7 712.7L1117.7 713.4L1118.7 712.7L1119.7 714.1L1120.7 712.3L1121.7 715.5L1122.7 713.6L1123.7 714.6L1124.7 716.1L1125.7 719.1L1126.7 718.2L1127.7 715.9L1128.7 714.1L1129.7 715.5L1130.7 715.5L1131.7 716.5L1132.7 714.7L1133.7 716.8L1134.7 719.9L1135.7 724.4L1136.7 719.1L1137.7 721.4L1138.7 719.9L1139.7 719.9L1140.7 721.8L1141.7 721.7L1142.7 721.7L1143.7 720.5L1144.7 719.1L1145.7 720.2L1146.7 720.2L1147.7 734.2L1148.7 726.1L1149.7 746.5L1150.7 732.1L1151.7 752.7L1152.7 746.8L1153.7 751.3L1154.7 751L1155.7 752.1L1156.7 751.8L1157.7 747L1158.7 749.8L1159.7 753.1L1160.7 749L1161.7 754.7L1162.7 737.5L1163.7 750.4L1164.7 736.5L1165.7 739.2L1166.7 735.8L1167.7 747.4L1168.7 740.5L1169.7 750.7L1170.7 746L1171.7 751.1L1172.7 750.3L1173.7 748L1174.7 749.4L1175.7 750.4L1176.7 749.5L1177.7 745.9L1178.7 743.2L1179.7 745.9L1180.7 740.8L1181.7 739.7L1182.7 744.7L1183.7 746.7L1184.7 751.4L1185.7 744.3L1186.7 751L1187.7 752.8L1188.7 749.5L1189.7 751.5L1190.7 737.6L1191.7 741.2L1192.7 734.8L1193.7 741.1L1194.7 737.9L1195.7 737.2L1196.7 732.6L1197.7 738.5L1198.7 736L1199.7 737.6L1200.7 734.8L1201.7 738.4L1202.7 740.5L1203.7 737.5L1204.7 734.1L1205.7 739.9L1206.7 735.3L1207.7 732.7L1208.7 721.2L1209.7 733L1210.7 704.5L1211.7 713.2L1212.7 689.9L1213.7 702.9L1214.7 683.7L1215.7 684.4L1216.7 677L1217.7 680.3L1218.7 679.2L1219.7 678.9L1220.7 678.4L1221.7 675.9L1222.7 673.2L1223.7 670.4L1224.7 669.6L1225.7 674.8L1226.7 664.7L1227.7 672.2L1228.7 666.5L1229.7 668.7L1230.7 662L1231.7 661.4L1232.7 663.2L1233.7 658.9L1234.7 663.5L1235.7 656.9L1236.7 659.5L1237.7 662.7L1238.7 661.8L1239.7 657.6L1240.7 659L1241.7 658.8L1242.7 658.7L1243.7 654.1L1244.7 654.7L1245.7 653L1246.7 648.5L1247.7 648.2L1248.7 646L1249.7 643.8L1250.7 640L1251.7 642.7L1252.7 627.5L1253.7 635.1L1254.7 622.6L1255.7 625.2L1256.7 620.9L1257.7 636.7L1258.7 627.7L1259.7 633.6L1260.7 631.5L1261.7 635.7L1262.7 634.9L1263.7 638.2L1264.7 630.6L1265.7 631.6L1266.7 624.4L1267.7 621.9L1268.7 625.2L1269.7 622.4L1270.7 622.3L1271.7 624.1L1272.7 620.8L1273.7 621.9L1274.7 624.1L1275.7 625.5L1276.7 624.3L1277.7 624.7L1278.7 621.9L1279.7 626.7L1280.7 621.8L1281.7 621.8L1282.7 610.9L1283.7 614.1L1284.7 605.1L1285.7 614.3L1286.7 606.7L1287.7 607.8L1288.7 603.8L1289.7 607L1290.7 605L1291.7 616.4L1292.7 617L1293.7 625.2L1294.7 617.3L1295.7 631.5L1296.7 625.1L1297.7 639.1L1298.7 635.6L1299.7 648.5L1300.7 639.6L1301.7 645.6L1302.7 641.3L1303.7 639.5L1304.7 628.2L1305.7 633L1306.7 627.3L1307.7 629.8L1308.7 626.4L1309.7 627.8L1310.7 623.6L1311.7 626.5L1312.7 620.7L1313.7 621.5L1314.7 612L1315.7 615.7L1316.7 594L1317.7 603.8L1318.7 591.8L1319.7 603.6L1320.7 590.1L1321.7 592.1L1322.7 583.7L1323.7 588.1L1324.7 580.2L1325.7 583L1326.7 579.9L1327.7 577.9L1328.7 578.6L1329.7 578.6L1330.7 582.7L1331.7 580L1332.7 573.3L1333.7 575.2L1334.7 555.4L1335.7 567.8L1336.7 536.2L1337.7 548.8L1338.7 528.9L1339.7 538.5L1340.7 522.5L1341.7 524.4L1342.7 516L1343.7 520.9L1344.7 508.5L1345.7 512.5L1346.7 506.3L1347.7 508.5L1348.7 498.4L1349.7 498.2L1350.7 501L1351.7 509.6L1352.7 502.2L1353.7 522L1354.7 514.4L1355.7 526.7L1356.7 524.3L1357.7 523.5L1358.7 516L1359.7 525.9L1360.7 508.7L1361.7 510.9L1362.7 502.2L1363.7 507.8L1364.7 503.3L1365.7 503.1L1366.7 503.7L1367.7 509.3L1368.7 509.4L1369.7 510.4L1370.7 506.4L1371.7 510.6L1372.7 496.8L1373.7 502.1L1374.7 498.1L1375.7 505.4L1376.7 498.4L1377.7 516L1378.7 508.6L1379.7 525.1L1380.7 521.8L1381.7 535.6L1382.7 531.1L1383.7 532.5L1384.7 528.5L1385.7 533L1386.7 525L1387.7 523.1L1388.7 515.8L1389.7 530.6L1390.7 522.3L1391.7 538.7L1392.7 536.1L1393.7 548.4L1394.7 540.9L1395.7 552.4L1396.7 546.5L1397.7 551.4L1398.7 541.3L1399.7 545L1400.7 533.6L1401.7 537.5L1402.7 531.5L1403.7 529.8L1404.7 529.3L1405.7 533.7L1406.7 533.3L1407.7 533.7L1408.7 529L1409.7 534.9L1410.7 519.5L1411.7 524.4L1412.7 517L1413.7 519.6L1414.7 511.5L1415.7 514.8L1416.7 510.6L1417.7 515.1L1418.7 511.1L1419.7 511.1L1420.7 509.3L1421.7 508.4L1422.7 509.1L1423.7 508L1424.7 506.3L1425.7 505.5L1426.7 507.2L1427.7 508.8L1428.7 506.6L1429.7 508.8L1430.7 502.8L1431.7 498.3L1432.7 497.7L1433.7 505.4L1434.7 504.4L1435.7 508.4L1436.7 506.9L1437.7 513L1438.7 515.9L1439.7 519.4L1440.7 519.3L1441.7 522.2L1442.7 517.2L1443.7 524.4L1444.7 522.5L1445.7 527.9L1446.7 530.6L1447.7 540.3L1448.7 539L1449.7 541.3L1450.7 537.1L1451.7 536.3L1452.7 539.1L1453.7 543.5L1454.7 542.3L1455.7 540.6L1456.7 545.3L1457.7 555.2L1458.7 545.4L1459.7 559.1L1460.7 556.9L1461.7 566.1L1462.7 559.7L1463.7 562.8L1464.7 553.9L1465.7 559.3L1466.7 545.3L1467.7 551.9L1468.7 543.6L1469.7 544.6L1470.7 530.2L1471.7 535.6L1472.7 519.6L1473.7 527.6L1474.7 516.6L1475.7 520.3L1476.7 518.9L1477.7 515.1L1478.7 514.4L1479.7 512.8L1480.7 512.2L1481.7 517.9L1482.7 515.3L1483.7 537.1L1484.7 523.5L1485.7 556.2L1486.7 540.8L1487.7 567.1L1488.7 558.5L1489.7 568.9L1490.7 543.8L1491.7 561.9L1492.7 548.2L1493.7 548.4L1494.7 545.8L1495.7 544.1L1496.7 546.5L1497.7 547.6L1498.7 545.7L1499.7 544.7L1500.7 542.7L1501.7 544L1502.7 539.8L1503.7 543.2L1504.7 533.6L1505.7 533.4L1506.7 529L1507.7 533.5L1508.7 532.4L1509.7 540.8L1510.7 535.6L1511.7 547.3L1512.7 545.3L1513.7 553.4L1514.7 545.1L1515.7 556.9L1516.7 554.6L1517.7 564.3L1518.7 559.9L1519.7 571.9L1520.7 568.8L1521.7 573.4L1522.7 559.4L1523.7 564.6L1524.7 552.2L1525.7 559.3L1526.7 547L1527.7 548L1528.7 543.3L1529.7 542.7L1530.7 540.8L1531.7 536.6L1532.7 531.7L1533.7 534.8L1534.7 533L1535.7 528.6L1536.7 525.7L1537.7 528.8L1538.7 524L1539.7 526.6L1540.7 526.6L1541.7 527.7L1542.7 529L1543.7 527.2L1544.7 529.8L1545.7 533.9L1546.7 530.5L1547.7 531.6L1548.7 526.4L1549.7 530.3L1550.7 525.6L1551.7 525.1L1552.7 525.6L1553.7 525.8L1554.7 522.1L1555.7 522.1L1556.7 517.9L1557.7 516.4L1558.7 515L1559.7 512.3L1560.7 509L1561.7 512.5L1562.7 512.4L1563.7 516.6L1564.7 512.5L1565.7 511.1L1566.7 512.1L1567.7 515.3L1568.7 508.9L1569.7 507.3L1570.7 506.4L1571.7 509.3L1572.7 504.2L1573.7 507.9L1574.7 507.1L1575.7 512.6L1576.7 503.4L1577.7 511.7L1578.7 488.7L1579.7 501.8L1580.7 477.3L1581.7 484.6L1582.7 465.4L1583.7 471.1L1584.7 451.3L1585.7 459.8L1586.7 440L1587.7 449L1588.7 432.1L1589.7 437.4L1590.7 423L1591.7 430.1L1592.7 422.7L1593.7 427.9L1594.7 425.6L1595.7 429.1L1596.7 423.6L1597.7 431.3L1598.7 430.5L1599.7 431L1600.7 428.3L1601.7 432.7L1602.7 425.4L1603.7 430.2L1604.7 428L1605.7 429.7L1606.7 420.5L1607.7 426.3L1608.7 426.5L1609.7 431.8L1610.7 431.2L1611.7 429.1L1612.7 416.5L1613.7 425L1614.7 411.7L1615.7 416.7L1616.7 408.1L1617.7 411.2L1618.7 402L1619.7 420.3L1620.7 408.9L1621.7 426.4L1622.7 421.1L1623.7 431.9L1624.7 429L1625.7 429.1L1626.7 426L1627.7 425.9L1628.7 427.6L1629.7 424.6L1630.7 426.1L1631.7 431.4L1632.7 432.1L1633.7 436.5L1634.7 428.2L1635.7 428.8L1636.7 416.4L1637.7 427L1638.7 419.7L1639.7 425.9L1640.7 423.4L1641.7 436.3L1642.7 439.6L1643.7 442.5L1644.7 433L1645.7 436.8L1646.7 419.6L1647.7 427.7L1648.7 408.7L1649.7 413.2L1650.7 403.1L1651.7 403L1652.7 401.9L1653.7 404.9L1654.7 408L1655.7 409.7L1656.7 404.3L1657.7 406.3L1658.7 404.1L1659.7 409.3L1660.7 409.3L1661.7 412.2L1662.7 409.9L1663.7 419.1L1664.7 406.3L1665.7 417.1L1666.7 411.6L1667.7 423L1668.7 427.5L1669.7 425.5L1670.7 430.6L1671.7 429.4L1672.7 427.3L1673.7 427.3L1674.7 426.1L1675.7 423.1L1676.7 421.8L1677.7 423.4L1678.7 422.1L1679.7 424.2L1680.7 427.7L1681.7 437.5L1682.7 434.2L1683.7 456.2L1684.7 442.4L1685.7 472.6L1686.7 454.2L1687.7 467.9L1688.7 447.8L1689.7 472.3L1690.7 446L1691.7 451.7L1692.7 442.6L1693.7 459.8L1694.7 448.5L1695.7 469.1L1696.7 460.3L1697.7 469.2L1698.7 468.5L1699.7 475L1700.7 467.8L1701.7 462.9L1702.7 455.9L1703.7 464.8L1704.7 457.8L1705.7 456.1L1706.7 455.7L1707.7 456.2L1708.7 453.7L1709.7 456.1L1710.7 454.4L1711.7 455.3L1712.7 456.9L1713.7 459.6L1714.7 455.6L1715.7 467.1L1716.7 460.5L1717.7 465.2L1718.7 459.3L1719.7 462.4L1720.7 462L1721.7 469.2L1722.7 463.3L1723.7 482.8L1724.7 474L1725.7 490.5L1726.7 483.3L1727.7 484L1728.7 463.5L1729.7 473.3L1730.7 462.6L1731.7 461.1L1732.7 457.1L1733.7 457L1734.7 458.8L1735.7 457.9L1736.7 454L1737.7 459.7L1738.7 456.9L1739.7 459.3L1740.7 450.8L1741.7 452.6L1742.7 442.3L1743.7 446.4L1744.7 436.6L1745.7 441.6L1746.7 431.5L1747.7 430.7L1748.7 425.8L1749.7 430.8L1750.7 418.8L1751.7 423.3L1752.7 417.5L1753.7 419.9L1754.7 414.5L1755.7 413.4L1756.7 410.2L1757.7 414.2L1758.7 406.9L1759.7 404L1760.7 402.9L1761.7 404.3L1762.7 405.4L1763.7 399.8L1764.7 400.2L1765.7 401.8L1766.7 397.2L1767.7 395.8L1768.7 395.3L1769.7 394.3L1770.7 394.2L1771.7 392.8L1772.7 401L1773.7 401.9L1774.7 395.9L1775.7 397.9L1776.7 398.9L1777.7 409.8L1778.7 407.8L1779.7 417.7L1780.7 416.3L1781.7 417.2L1782.7 408.1L1783.7 416.6L1784.7 404.1L1785.7 408.2L1786.7 398L1787.7 399L1788.7 395.4L1789.7 399.2L1790.7 397L1791.7 399.7L1792.7 396.2L1793.7 406L1794.7 405.2L1795.7 412.2L1796.7 405.7L1797.7 412.1L1798.7 404.9L1799.7 416L1800.7 402.5L1801.7 409.8L1802.7 401.6L1803.7 395.1L1804.7 395.2L1805.7 395.4L1806.7 397.7L1807.7 398.9L1808.7 397.2L1809.7 394.4L1810.7 398.9L1811.7 393.5L1812.7 401.1L1813.7 394.9L1814.7 388.2L1815.7 390.4L1816.7 377.6L1817.7 380.2L1818.7 370.3L1819.7 376.4L1820.7 366.8L1821.7 372.7L1822.7 369.6L1823.7 375.8L1824.7 377L1825.7 373.4L1826.7 381.1L1827.7 372.8L1828.7 376.8L1829.7 374.5L1830.7 371.4L1831.7 376.1L1832.7 377.8L1833.7 376.3L1834.7 381.3L1835.7 382.7L1836.7 382.6L1837.7 387.2L1838.7 387.4L1839.7 390L1840.7 384.8L1841.7 388.9L1842.7 377.4L1843.7 381L1844.7 372L1845.7 380.2L1846.7 369.6L1847.7 372.9L1848.7 368.2L1849.7 368.7L1850.7 370.3L1851.7 378.2L1852.7 373.1L1853.7 381.4L1854.7 376.2L1855.7 383.5L1856.7 383.2L1857.7 385.3L1858.7 384.1L1859.7 391.9L1860.7 387.6L1861.7 393.5L1862.7 394.6L1863.7 397.4L1864.7 394.7L1865.7 396.1L1866.7 394.1L1867.7 395.9L1868.7 392.6L1869.7 393.1L1870.7 387.7L1871.7 390.5L1872.7 384.9L1873.7 386.9L1874.7 386.4L1875.7 384.1L1876.7 380.4L1877.7 383.3L1878.7 378.6L1879.7 377L1880.7 379.1L1881.7 383.5L1882.7 378.5L1883.7 387.3L1884.7 385.2L1885.7 389.3L1886.7 388.6L1887.7 388.1L1888.7 386.4L1889.7 394.2L1890.7 392.1L1891.7 392.6L1892.7 379.2L1893.7 385.8L1894.7 379.7L1895.7 383.4L1896.7 372.9L1897.7 378.9L1898.7 370.7L1899.7 370.5L1900.7 368L1901.7 384.2L1902.7 369.1L1903.7 385.3L1904.7 382.9L1905.7 387.3L1906.7 390.7L1907.7 395.9L1908.7 389.3L1909.7 398L1910.7 397.3L1911.7 398L1912.7 397.5L1913.7 394L1914.7 396.4L1915.7 397.3L1916.7 385.7L1917.7 393.2L1918.7 386.4L1919.7 390.9L1920.7 391L1921.7 393.7L1922.7 386.7L1923.7 393.2L1924.7 393.4L1925.7 402.1L1926.7 395.1L1927.7 410.6L1928.7 401.9L1929.7 419" fill="none" stroke="#000" stroke-width="4.4" stroke-linejoin="round" stroke-linecap="round"/>
<text x="53" y="1161" font-size="27.2" fill="#808080">© 2025 Glassnode. All Rights Reserved.</text>
<g class="lg" transform="translate(1839.6 1169.3) scale(0.2773)"><circle cx="54.5" cy="-54.5" r="44"/><path d="M98.5 -109 V-13 A44 44 0 0 1 16.4 9"/><path d="M133 -147 L154 -151 L154 0 L133 0 Z" class="f"/><circle cx="226.5" cy="-54.5" r="44"/><path d="M272.5 -109 V0"/><path transform="translate(301 0)" d="M69.5 -84 C62 -97 50 -99 40 -99 C24 -99 13 -90 13 -78 C13 -64 25 -60 40 -55.5 C57 -50.5 68.5 -45 68.5 -30 C68.5 -17 56 -10 40 -10 C27 -10 15 -15 9.5 -27"/><path transform="translate(389 0)" d="M69.5 -84 C62 -97 50 -99 40 -99 C24 -99 13 -90 13 -78 C13 -64 25 -60 40 -55.5 C57 -50.5 68.5 -45 68.5 -30 C68.5 -17 56 -10 40 -10 C27 -10 15 -15 9.5 -27"/><path d="M499.5 -109 V0 M499.5 -64 A34 34 0 0 1 567.5 -64 V0"/><circle cx="651.5" cy="-54.5" r="44"/><circle cx="772" cy="-54.5" r="44"/><path d="M805.5 -148 L826.5 -152 L826.5 0 L805.5 0 Z" class="f"/><path d="M855.5 -54.5 H937.5 A41 44 0 1 0 925.5 -23"/></g>
</svg>
</body></html>
